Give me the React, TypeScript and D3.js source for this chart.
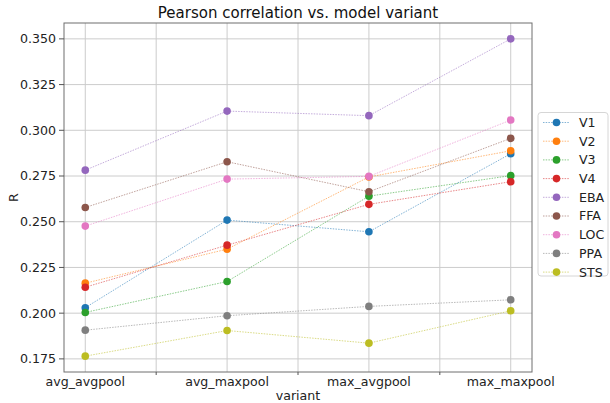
import React from "react";
import * as d3 from "d3";

const variants = ["avg_avgpool", "avg_maxpool", "max_avgpool", "max_maxpool"];
const regions = ["V1", "V2", "V3", "V4", "EBA", "FFA", "LOC", "PPA", "STS"];
const colors = ["#1f77b4", "#ff7f0e", "#2ca02c", "#d62728", "#9467bd", "#8c564b", "#e377c2", "#7f7f7f", "#bcbd22"];

// R per region, one value per variant
const V1 = [0.203, 0.2509, 0.2445, 0.2872];
const V2 = [0.2164, 0.235, 0.2745, 0.2888];
const V3 = [0.2004, 0.2173, 0.264, 0.2752];
const V4 = [0.2142, 0.2372, 0.2595, 0.2719];
const EBA = [0.2782, 0.3105, 0.308, 0.35];
const FFA = [0.2578, 0.2828, 0.2664, 0.2956];
const LOC = [0.2476, 0.2733, 0.2748, 0.3056];
const PPA = [0.1907, 0.1986, 0.2037, 0.2073];
const STS = [0.1765, 0.1905, 0.1836, 0.2013];
const series = [V1, V2, V3, V4, EBA, FFA, LOC, PPA, STS];

const yTicks = [0.175, 0.2, 0.225, 0.25, 0.275, 0.3, 0.325, 0.35];

export default function App() {
  const W = 610, H = 403;
  const m = { left: 64, top: 23, right: 532, bottom: 372 };

  const allVals = series.flat();
  const lo = d3.min(allVals)!, hi = d3.max(allVals)!;
  const pad = (hi - lo) * 0.05;

  const x = d3.scaleLinear().domain([-0.15, variants.length - 1 + 0.15]).range([m.left, m.right]);
  const y = d3.scaleLinear().domain([lo - pad, hi + pad]).range([m.bottom, m.top]);

  const line = d3.line<number>().x((_, i) => x(i)).y(d => y(d));
  const minor = d3.range(variants.length - 1).map(i => i + 0.5);
  const font = "DejaVu Sans, sans-serif";
  const fs = 12.6;

  return (
    <svg width={W} height={H} style={{ position: "absolute", left: 0, top: 0 }} fontFamily={font}>
      <rect width={W} height={H} fill="#fff" />
      {/* grid */}
      <g stroke="#cccccc" strokeWidth={1}>
        {yTicks.map(t => (
          <line key={t} x1={m.left} x2={m.right} y1={y(t)} y2={y(t)} />
        ))}
        {variants.map((v, i) => (
          <line key={v} x1={x(i)} x2={x(i)} y1={m.top} y2={m.bottom} />
        ))}
        {minor.map(t => (
          <line key={t} x1={x(t)} x2={x(t)} y1={m.top} y2={m.bottom} />
        ))}
      </g>

      {/* series */}
      {series.map((s, k) => (
        <g key={regions[k]}>
          <path d={line(s)!} fill="none" stroke={colors[k]} strokeWidth={1} strokeOpacity={0.55} strokeDasharray="1.5,1.2" />
          {s.map((d, i) => (
            <circle key={i} cx={x(i)} cy={y(d)} r={3.8} fill={colors[k]} />
          ))}
        </g>
      ))}

      {/* spines */}
      <rect x={m.left} y={m.top} width={m.right - m.left} height={m.bottom - m.top} fill="none" stroke="#6e6e6e" strokeWidth={1} />

      {/* y axis */}
      {yTicks.map(t => (
        <g key={t}>
          <line x1={m.left - 5} x2={m.left} y1={y(t)} y2={y(t)} stroke="#555" />
          <text x={m.left - 8} y={y(t)} dy="0.35em" textAnchor="end" fontSize={fs} fill="#222">
            {d3.format(".3f")(t)}
          </text>
        </g>
      ))}

      {/* x axis */}
      {minor.map(t => (
        <line key={t} x1={x(t)} x2={x(t)} y1={m.bottom} y2={m.bottom + 3} stroke="#555" />
      ))}
      {variants.map((v, i) => (
        <text key={v} x={x(i)} y={m.bottom + 14} textAnchor="middle" fontSize={fs} fill="#222">
          {v}
        </text>
      ))}

      <text x={(m.left + m.right) / 2} y={400} textAnchor="middle" fontSize={fs} fill="#222">variant</text>
      <text transform={`translate(18,${(m.top + m.bottom) / 2}) rotate(-90)`} textAnchor="middle" fontSize={fs} fill="#222">R</text>
      <text x={(m.left + m.right) / 2} y={18} textAnchor="middle" fontSize={15} fill="#111">
        Pearson correlation vs. model variant
      </text>

      {/* legend */}
      <g transform="translate(538,112.5)">
        <rect x={0} y={0} width={70} height={163.5} rx={3} fill="#fff" stroke="#d6d6d6" />
        {regions.map((r, k) => {
          const ly = 10 + k * 18.7;
          return (
            <g key={r}>
              <line x1={5} x2={31} y1={ly} y2={ly} stroke={colors[k]} strokeOpacity={0.55} strokeDasharray="1.5,1.2" />
              <circle cx={18.5} cy={ly} r={3.8} fill={colors[k]} />
              <text x={41} y={ly} dy="0.35em" fontSize={fs} fill="#222">{r}</text>
            </g>
          );
        })}
      </g>
    </svg>
  );
}
